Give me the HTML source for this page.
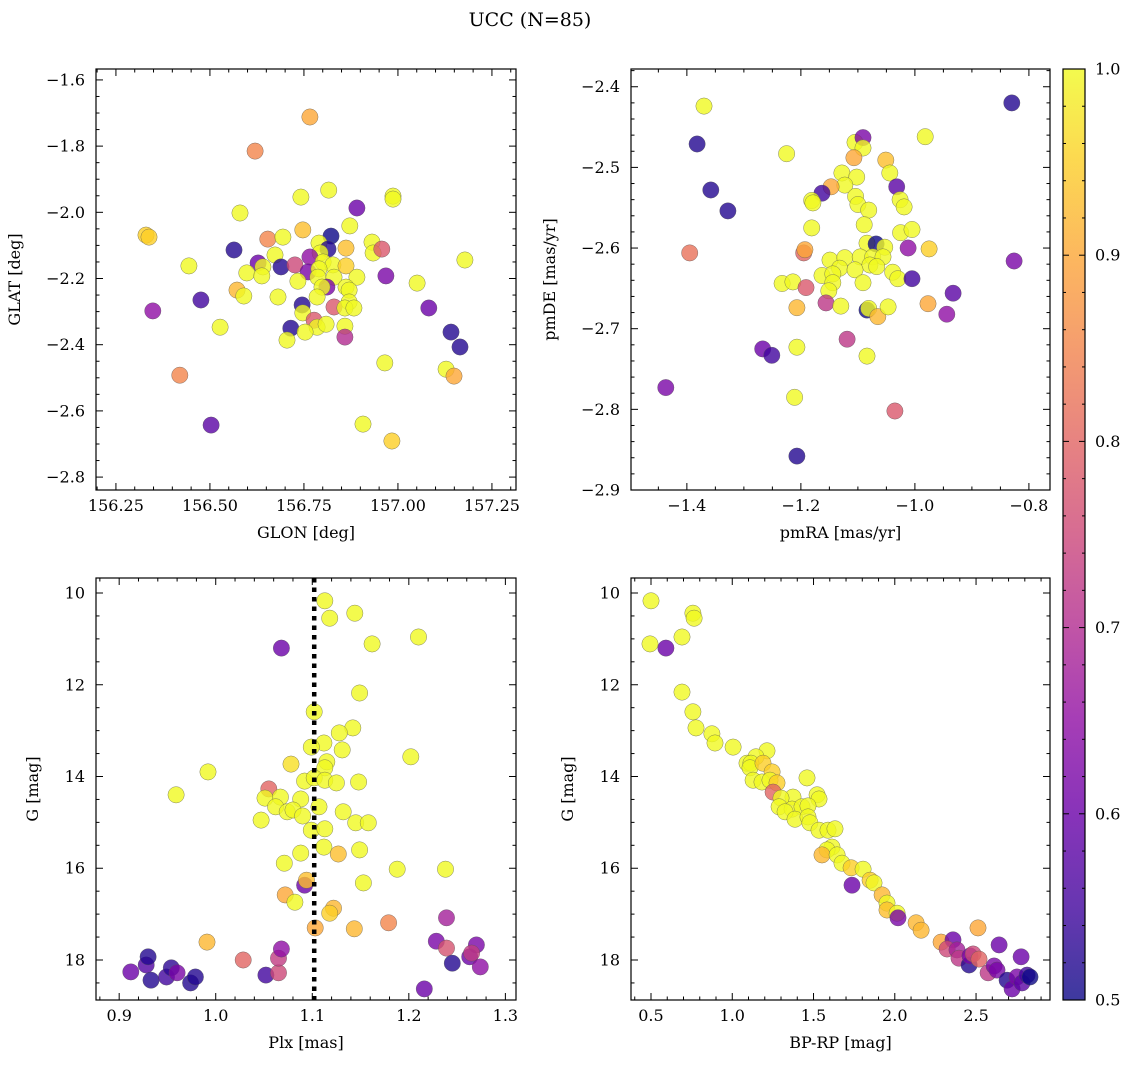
<!DOCTYPE html>
<html><head><meta charset="utf-8"><style>
html,body{margin:0;padding:0;background:#fff}
svg{display:block;font-family:"DejaVu Serif","Liberation Serif",serif}
</style></head><body>
<svg id="fig" width="1136" height="1068" viewBox="0 0 1136 1068" xmlns="http://www.w3.org/2000/svg">
<defs><linearGradient id="cmap" x1="0" y1="1" x2="0" y2="0">
<stop offset="0" stop-color="#0d0887"/><stop offset="0.1" stop-color="#41049d"/><stop offset="0.2" stop-color="#6a00a8"/><stop offset="0.3" stop-color="#8f0da4"/><stop offset="0.4" stop-color="#b12a90"/><stop offset="0.5" stop-color="#cc4778"/><stop offset="0.6" stop-color="#e16462"/><stop offset="0.7" stop-color="#f2844b"/><stop offset="0.8" stop-color="#fca636"/><stop offset="0.9" stop-color="#fcce25"/><stop offset="1" stop-color="#f0f921"/>
</linearGradient></defs>
<text x="530" y="26" font-size="19" text-anchor="middle">UCC (N=85)</text>
</svg>
<script>
// Panel 1: GLON / GLAT
const p1x=[156.766,156.620,156.330,156.338,156.444,156.420,156.348,156.476,156.503,156.527,156.580,156.742,156.816,156.987,156.987,156.891,156.872,156.747,156.654,156.694,156.822,156.790,156.862,156.931,156.934,156.957,156.564,156.814,156.793,156.628,156.641,156.673,156.689,156.726,156.766,156.801,156.827,156.862,156.761,156.790,156.787,156.830,156.598,156.638,156.968,156.891,157.051,156.734,156.572,156.590,156.681,156.811,156.798,156.862,156.870,156.785,156.745,156.747,156.830,156.870,156.859,156.883,156.777,156.785,156.809,156.715,156.753,156.705,156.859,156.859,156.965,156.907,156.984,157.082,157.128,157.141,157.149,157.165,157.178];
const p1y=[-1.712,-1.815,-2.069,-2.075,-2.162,-2.492,-2.298,-2.265,-2.643,-2.347,-2.002,-1.954,-1.933,-1.951,-1.960,-1.987,-2.041,-2.053,-2.081,-2.075,-2.072,-2.093,-2.108,-2.090,-2.123,-2.111,-2.114,-2.111,-2.123,-2.153,-2.165,-2.129,-2.165,-2.159,-2.135,-2.150,-2.159,-2.162,-2.180,-2.171,-2.196,-2.196,-2.183,-2.192,-2.192,-2.196,-2.214,-2.208,-2.235,-2.253,-2.256,-2.226,-2.226,-2.226,-2.235,-2.256,-2.280,-2.304,-2.286,-2.271,-2.289,-2.289,-2.326,-2.347,-2.338,-2.350,-2.362,-2.386,-2.344,-2.377,-2.455,-2.640,-2.691,-2.289,-2.474,-2.362,-2.495,-2.407,-2.144];
const p1p=[.9,.85,.95,.95,1,.85,.65,.55,.58,1,1,1,1,1,1,.6,1,.93,.85,1,.5,1,.93,1,1,.78,.52,.52,1,.6,1,1,.52,.75,.65,1,1,.95,.62,1,1,1,1,1,.62,1,1,1,.92,1,1,.62,1,1,1,1,.52,1,.78,1,1,1,.78,1,1,.52,1,1,1,.7,1,1,.95,.6,1,.52,.9,.52,1];
// Panel 2: pmRA / pmDE
const p2x=[-1.370,-1.382,-1.358,-1.328,-1.395,-1.437,-1.211,-1.207,-1.035,-0.830,-0.826,-1.225,-1.105,-1.091,-1.091,-1.107,-0.982,-1.051,-1.044,-1.128,-1.102,-1.123,-1.147,-1.163,-1.032,-1.181,-1.179,-1.104,-1.100,-1.081,-1.026,-1.019,-1.181,-1.089,-1.025,-1.005,-1.084,-1.068,-1.053,-1.012,-0.975,-1.195,-1.193,-1.149,-1.123,-1.132,-1.096,-1.074,-1.056,-1.079,-1.067,-1.105,-1.039,-1.030,-1.005,-0.933,-1.163,-1.144,-1.144,-1.151,-1.233,-1.214,-1.191,-1.091,-0.977,-0.944,-1.207,-1.156,-1.130,-1.084,-1.081,-1.065,-1.047,-1.119,-1.207,-1.084,-1.267,-1.251];
const p2y=[-2.424,-2.471,-2.528,-2.554,-2.606,-2.773,-2.785,-2.858,-2.802,-2.420,-2.616,-2.483,-2.469,-2.463,-2.476,-2.488,-2.462,-2.491,-2.507,-2.507,-2.512,-2.522,-2.524,-2.532,-2.524,-2.541,-2.544,-2.536,-2.546,-2.553,-2.540,-2.549,-2.575,-2.571,-2.581,-2.577,-2.594,-2.595,-2.599,-2.600,-2.601,-2.606,-2.602,-2.615,-2.612,-2.625,-2.611,-2.611,-2.611,-2.621,-2.623,-2.627,-2.630,-2.638,-2.638,-2.656,-2.634,-2.632,-2.643,-2.653,-2.644,-2.642,-2.649,-2.643,-2.669,-2.682,-2.674,-2.668,-2.672,-2.677,-2.675,-2.685,-2.673,-2.713,-2.723,-2.734,-2.725,-2.733];
const p2p=[1,.52,.52,.52,.82,.62,1,.52,.78,.52,.62,1,1,.62,1,.9,1,.93,1,1,1,1,.9,.55,.58,1,1,1,1,1,1,1,1,1,1,1,1,.5,1,.65,.95,.8,.9,1,1,1,1,1,1,1,1,1,1,1,.55,.58,1,1,1,1,1,1,.78,1,.9,.65,.92,.72,1,.5,1,.92,1,.72,1,1,.6,.55];
// Panel 3: Plx / G
const p3x=[1.113,1.118,1.144,1.068,1.162,1.149,1.102,1.142,1.128,1.112,1.099,1.131,1.078,1.115,1.113,1.092,1.102,1.113,1.125,1.148,1.055,1.051,1.067,1.088,1.062,1.074,1.080,1.090,1.107,1.132,1.047,1.145,1.158,1.099,1.113,1.112,1.088,1.127,1.149,1.071,1.188,1.092,1.094,1.153,1.072,1.082,1.122,1.118,1.103,1.1435,1.179,0.992,0.959,1.210,1.202,1.238,0.991,0.912,0.928,0.930,0.933,0.949,0.954,0.960,0.974,0.979,1.0285,1.052,1.065,1.065,1.068,1.239,1.2285,1.239,1.245,1.216,1.270,1.263,1.265,1.274];
const p3y=[10.17,10.55,10.44,11.20,11.11,12.18,12.59,12.94,13.05,13.27,13.36,13.42,13.73,13.68,13.81,14.10,14.03,14.08,14.14,14.12,14.27,14.47,14.45,14.49,14.66,14.77,14.73,14.86,14.66,14.77,14.95,15.01,15.01,15.17,15.14,15.54,15.67,15.69,15.60,15.89,16.02,16.37,16.26,16.32,16.58,16.74,16.87,16.98,17.30,17.32,17.19,13.90,14.40,10.96,13.57,16.02,17.61,18.26,18.11,17.93,18.44,18.37,18.17,18.28,18.50,18.37,18.00,18.33,18.28,17.96,17.76,17.08,17.59,17.74,18.07,18.63,17.67,17.93,17.85,18.15];
const p3p=[1,1,1,.6,1,1,1,1,1,1,1,1,.97,1,1,1,1,1,1,1,.8,1,1,1,1,1,1,1,1,1,1,1,1,1,1,1,1,.93,1,1,1,.6,.93,1,.9,1,.92,.95,.9,.92,.85,1,1,1,1,1,.92,.6,.57,.52,.52,.55,.53,.62,.52,.52,.8,.55,.75,.73,.65,.68,.62,.77,.52,.6,.62,.6,.73,.65];
const plxLine=[1.102];
// Panel 4: BP-RP / G
const p4x=[0.500,0.758,0.765,0.691,0.494,0.592,0.691,0.758,0.777,0.875,0.894,1.005,1.214,1.146,1.091,1.115,1.109,1.189,1.245,1.460,1.128,1.183,1.232,1.275,1.251,1.374,1.522,1.534,1.300,1.288,1.368,1.429,1.466,1.325,1.386,1.466,1.478,1.534,1.589,1.632,1.614,1.583,1.552,1.645,1.675,1.731,1.805,1.737,1.848,1.872,1.922,1.952,1.952,2.014,2.020,2.131,2.162,2.285,2.358,2.322,2.383,2.395,2.457,2.463,2.482,2.518,2.512,2.574,2.611,2.629,2.642,2.691,2.722,2.752,2.777,2.783,2.814,2.832];
const p4y=[10.17,10.44,10.55,10.96,11.11,11.20,12.16,12.59,12.94,13.07,13.27,13.36,13.44,13.57,13.71,13.71,13.81,13.71,13.90,14.03,14.08,14.12,14.08,14.14,14.34,14.45,14.40,14.49,14.47,14.66,14.71,14.66,14.64,14.77,14.93,14.88,15.01,15.17,15.17,15.14,15.54,15.60,15.71,15.71,15.89,15.99,16.02,16.37,16.26,16.32,16.58,16.76,16.91,16.98,17.08,17.19,17.35,17.61,17.56,17.76,17.78,17.96,18.11,17.91,17.87,17.98,17.30,18.28,18.13,18.22,17.67,18.44,18.63,18.37,17.93,18.50,18.33,18.37];
const p4p=[1,1,1,1,1,.6,1,1,1,1,1,1,1,1,1,1,1,.95,.95,1,1,1,1,.95,.8,1,1,1,1,1,1,1,1,1,1,1,1,1,1,1,1,1,.92,1,1,.95,1,.6,.95,1,.92,1,.93,1,.62,.92,.92,.9,.6,.75,.68,.72,.52,.62,.75,.8,.9,.72,.62,.62,.6,.52,.6,.62,.6,.58,.55,.5];
// Colorbar
const cbTicks=[0.5,0.6,0.7,0.8,0.9,1.0];

const NS='http://www.w3.org/2000/svg';
const svg=document.getElementById('fig');
function mk(tag,attrs,parent){const e=document.createElementNS(NS,tag);for(const k in attrs)e.setAttribute(k,attrs[k]);(parent||svg).appendChild(e);return e;}
const stops=[[13,8,135],[65,4,157],[106,0,168],[143,13,164],[177,42,144],[204,71,120],[225,100,98],[242,132,75],[252,166,54],[252,206,37],[240,249,33]];
function plasma(v){let t=(v-0.5)/0.5;t=Math.max(0,Math.min(1,t))*10;const i=Math.min(9,Math.floor(t));const f=t-i;const a=stops[i],b=stops[i+1];return 'rgb('+[0,1,2].map(k=>Math.round(a[k]+(b[k]-a[k])*f)).join(',')+')';}
function fmt(v,d){return v.toFixed(d).replace('-','\u2212');}

function panel(o){
  const g=mk('g',{});
  
  
  const sx=v=>o.L+(v-o.x0)/(o.x1-o.x0)*(o.R-o.L);
  const sy=v=>o.B-(v-o.y0)/(o.y1-o.y0)*(o.B-o.T);
  const pts=mk('g',{},g);
  
  
  for(let i=0;i<o.xs.length;i++){
    const c=mk('circle',{cx:sx(o.xs[i]).toFixed(1),cy:sy(o.ys[i]).toFixed(1),r:8.2,fill:plasma(o.ps[i]),'fill-opacity':0.8,stroke:'#555','stroke-width':0.5,'stroke-opacity':0.7},pts);
    
    
  }
  if(o.vline){for(const v of o.vline){const l=mk('line',{x1:sx(v),x2:sx(v),y1:o.T,y2:o.B,stroke:'#000','stroke-width':4.5,'stroke-dasharray':'4.5 5'},g);
    
    }}
  const fr=mk('rect',{x:o.L,y:o.T,width:o.R-o.L,height:o.B-o.T,fill:'none',stroke:'#000','stroke-width':1.2},g);
  
  
  const eps=1e-9;
  const xmin=Math.min(o.x0,o.x1),xmax=Math.max(o.x0,o.x1),ymin=Math.min(o.y0,o.y1),ymax=Math.max(o.y0,o.y1);
  for(let v=Math.ceil(xmin/o.xmn-eps)*o.xmn;v<=xmax+eps;v+=o.xmn){const X=sx(v);
    const isMaj=Math.abs(v/o.xmj-Math.round(v/o.xmj))<1e-6;const len=isMaj?7:3.5;
    mk('line',{x1:X,x2:X,y1:o.B,y2:o.B-len,stroke:'#000','stroke-width':1},g);
    mk('line',{x1:X,x2:X,y1:o.T,y2:o.T+len,stroke:'#000','stroke-width':1},g);
    if(isMaj){const t=mk('text',{x:X,y:o.B+21,'font-size':16,'text-anchor':'middle'},g);t.textContent=fmt(v,o.xd);
      
      }}
  for(let v=Math.ceil(ymin/o.ymn-eps)*o.ymn;v<=ymax+eps;v+=o.ymn){const Y=sy(v);
    const isMaj=Math.abs(v/o.ymj-Math.round(v/o.ymj))<1e-6;const len=isMaj?7:3.5;
    mk('line',{x1:o.L,x2:o.L+len,y1:Y,y2:Y,stroke:'#000','stroke-width':1},g);
    mk('line',{x1:o.R,x2:o.R-len,y1:Y,y2:Y,stroke:'#000','stroke-width':1},g);
    if(isMaj){const t=mk('text',{x:o.L-11,y:Y+5.5,'font-size':16,'text-anchor':'end'},g);t.textContent=fmt(v,o.yd);
      
      }}
  const xl=mk('text',{x:(o.L+o.R)/2,y:o.B+48,'font-size':16,'text-anchor':'middle'},g);xl.textContent=o.xlab;
  
  
  const yx=o.L-o.ylo,yy=(o.T+o.B)/2;
  const yl=mk('text',{x:yx,y:yy,'font-size':16,'text-anchor':'middle',transform:'rotate(-90 '+yx+' '+yy+')'},g);yl.textContent=o.ylab;
  
  
}
panel({name:'glon-glat-panel',L:96,R:516,T:69,B:490,x0:156.197,x1:157.314,y0:-2.839,y1:-1.567,xmj:0.25,xmn:0.05,ymj:0.2,ymn:0.05,xd:2,yd:1,xs:p1x,ys:p1y,ps:p1p,xlab:'GLON [deg]',ylab:'GLAT [deg]',ylo:76});
panel({name:'pm-panel',L:631,R:1050,T:69,B:490,x0:-1.498,x1:-0.763,y0:-2.9,y1:-2.378,xmj:0.2,xmn:0.05,ymj:0.1,ymn:0.02,xd:1,yd:1,xs:p2x,ys:p2y,ps:p2p,xlab:'pmRA [mas/yr]',ylab:'pmDE [mas/yr]',ylo:76});
panel({name:'plx-g-panel',L:96,R:516,T:578,B:1000,x0:0.876,x1:1.311,y0:18.872,y1:9.673,xmj:0.1,xmn:0.02,ymj:2,ymn:0.5,xd:1,yd:0,xs:p3x,ys:p3y,ps:p3p,vline:plxLine,xlab:'Plx [mas]',ylab:'G [mag]',ylo:58});
panel({name:'cmd-panel',L:631,R:1050,T:578,B:1000,x0:0.377,x1:2.955,y0:18.872,y1:9.673,xmj:0.5,xmn:0.1,ymj:2,ymn:0.5,xd:1,yd:0,xs:p4x,ys:p4y,ps:p4p,xlab:'BP-RP [mag]',ylab:'G [mag]',ylo:58});

const cb=mk('g',{});


const cL=1063,cR=1085,cT=69,cB=1000;
mk('rect',{x:cL,y:cT,width:cR-cL,height:cB-cT,fill:'url(#cmap)','fill-opacity':0.8},cb);
mk('rect',{x:cL,y:cT,width:cR-cL,height:cB-cT,fill:'none',stroke:'#000','stroke-width':1.2},cb);
const cy=v=>cB-(v-0.5)/0.5*(cB-cT);
for(let k=0;k<=25;k++){const v=0.5+k*0.02;const Y=cy(v);const maj=k%5===0;
  mk('line',{x1:cR,x2:cR-(maj?6:3),y1:Y,y2:Y,stroke:'#000','stroke-width':1},cb);
  mk('line',{x1:cL,x2:cL+(maj?6:3),y1:Y,y2:Y,stroke:'#000','stroke-width':1},cb);}
for(const v of cbTicks){const t=mk('text',{x:cR+10,y:cy(v)+5.5,'font-size':16},cb);t.textContent=v.toFixed(1);
  
  }
</script>
</body></html>
